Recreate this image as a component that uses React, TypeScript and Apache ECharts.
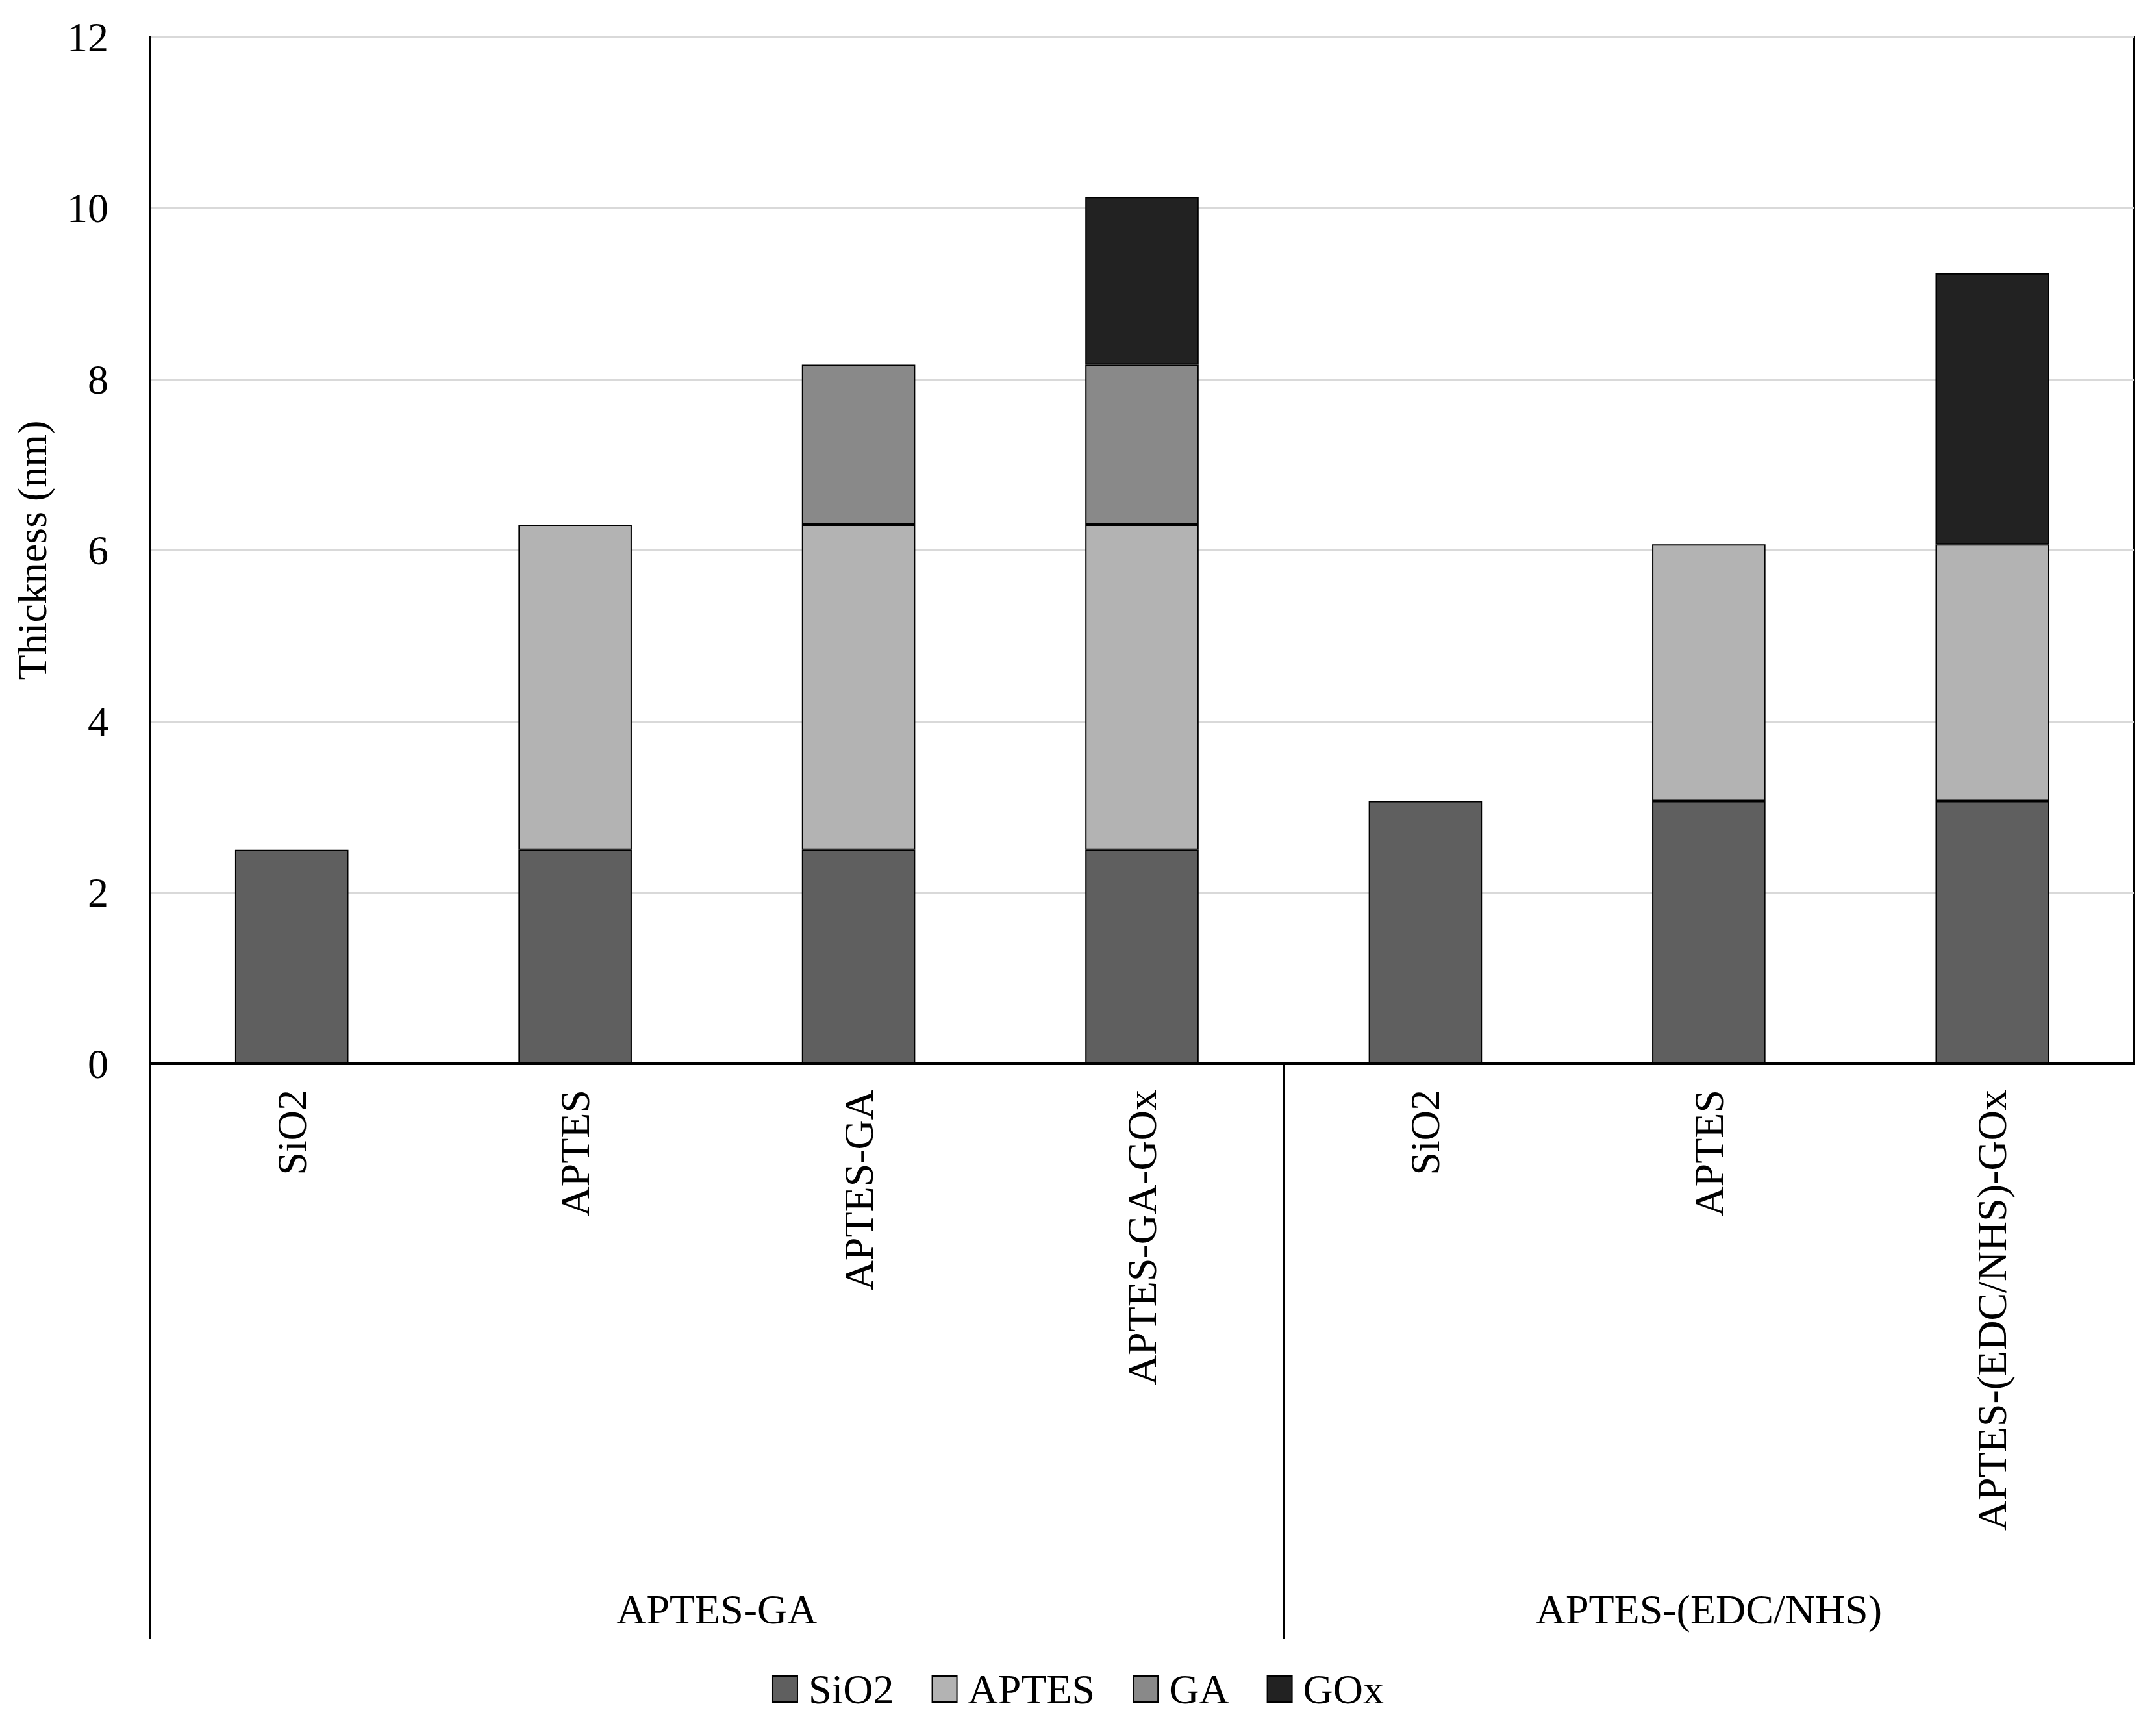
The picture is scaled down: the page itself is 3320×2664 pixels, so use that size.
import React, { useEffect, useRef } from "react";
import * as echarts from "echarts";

const categories = ["SiO2", "APTES", "APTES-GA", "APTES-GA-GOx", "SiO2", "APTES", "APTES-(EDC/NHS)-GOx"];
const groupNames = ["APTES-GA", "APTES-(EDC/NHS)"];
const groupCenters = [2, 5.5];
const groupBounds = [0, 4];
const sio2 = [2.5, 2.5, 2.5, 2.5, 3.07, 3.07, 3.07];
const aptes = [null, 3.8, 3.8, 3.8, null, 3.0, 3.0];
const ga = [null, null, 1.87, 1.87, null, null, null];
const gox = [null, null, null, 1.96, null, null, 3.17];
const yTicks = { min: 0, max: 12, interval: 2 };

const FONT = "Liberation Serif";
const FS = 64;

export default function App() {
  const ref = useRef<HTMLDivElement>(null);
  useEffect(() => {
    const chart = echarts.init(ref.current!, null, { renderer: "svg" });
    const mk = (name: string, data: (number | null)[], color: string) => ({
      name,
      type: "bar",
      stack: "total",
      data,
      barCategoryGap: "60%",
      itemStyle: { color, borderColor: "#000", borderWidth: 2 },
      xAxisIndex: 0,
    });
    chart.setOption({
      animation: false,
      backgroundColor: "#fff",
      textStyle: { fontFamily: FONT, color: "#000" },
      grid: {
        left: 231,
        right: 34,
        top: 57,
        bottom: 1026,
        show: true,
        borderColor: "#000",
        borderWidth: 4,
        containLabel: false,
      },
      legend: {
        data: ["SiO2", "APTES", "GA", "GOx"],
        top: 2564,
        left: "center",
        icon: "rect",
        itemWidth: 38,
        itemHeight: 40,
        itemGap: 58,
        textStyle: { fontFamily: FONT, fontSize: FS, color: "#000", padding: [0, 0, 0, 12] },
      },
      xAxis: [
        {
          type: "category",
          data: categories,
          position: "bottom",
          axisLine: { show: true, onZero: false, lineStyle: { color: "#000", width: 4 } },
          axisTick: { show: false },
          axisLabel: {
            rotate: 90,
            margin: 40,
            fontFamily: FONT,
            fontSize: FS,
            color: "#000",
            interval: 0,
          },
          splitLine: { show: false },
        },
        {
          type: "value",
          min: 0,
          max: 7,
          position: "bottom",
          axisLine: { show: false },
          axisTick: {
            show: true,
            customValues: groupBounds,
            length: 886,
            inside: false,
            lineStyle: { color: "#000", width: 4 },
          },
          axisLabel: {
            show: true,
            customValues: groupCenters,
            margin: 808,
            fontFamily: FONT,
            fontSize: FS,
            color: "#000",
            formatter: (v: number) => {
              const i = groupCenters.indexOf(v);
              return i >= 0 ? groupNames[i] : "";
            },
          },
          splitLine: { show: false },
        },
      ],
      yAxis: {
        type: "value",
        min: yTicks.min,
        max: yTicks.max,
        interval: yTicks.interval,
        name: "Thickness (nm)",
        nameLocation: "middle",
        nameGap: 150,
        nameTextStyle: { fontFamily: FONT, fontSize: FS, color: "#000" },
        axisLine: { show: true, lineStyle: { color: "#000", width: 4 } },
        axisTick: { show: false },
        axisLabel: { margin: 64, fontFamily: FONT, fontSize: FS, color: "#000" },
        splitLine: { show: true, lineStyle: { color: "#d9d9d9", width: 3 } },
      },
      series: [
        mk("SiO2", sio2, "#5f5f5f"),
        mk("APTES", aptes, "#b3b3b3"),
        mk("GA", ga, "#898989"),
        mk("GOx", gox, "#222222"),
      ],
    });
    return () => chart.dispose();
  }, []);
  return (
    <div
      ref={ref}
      style={{ position: "absolute", left: 0, top: 0, width: 3320, height: 2664 }}
    />
  );
}
